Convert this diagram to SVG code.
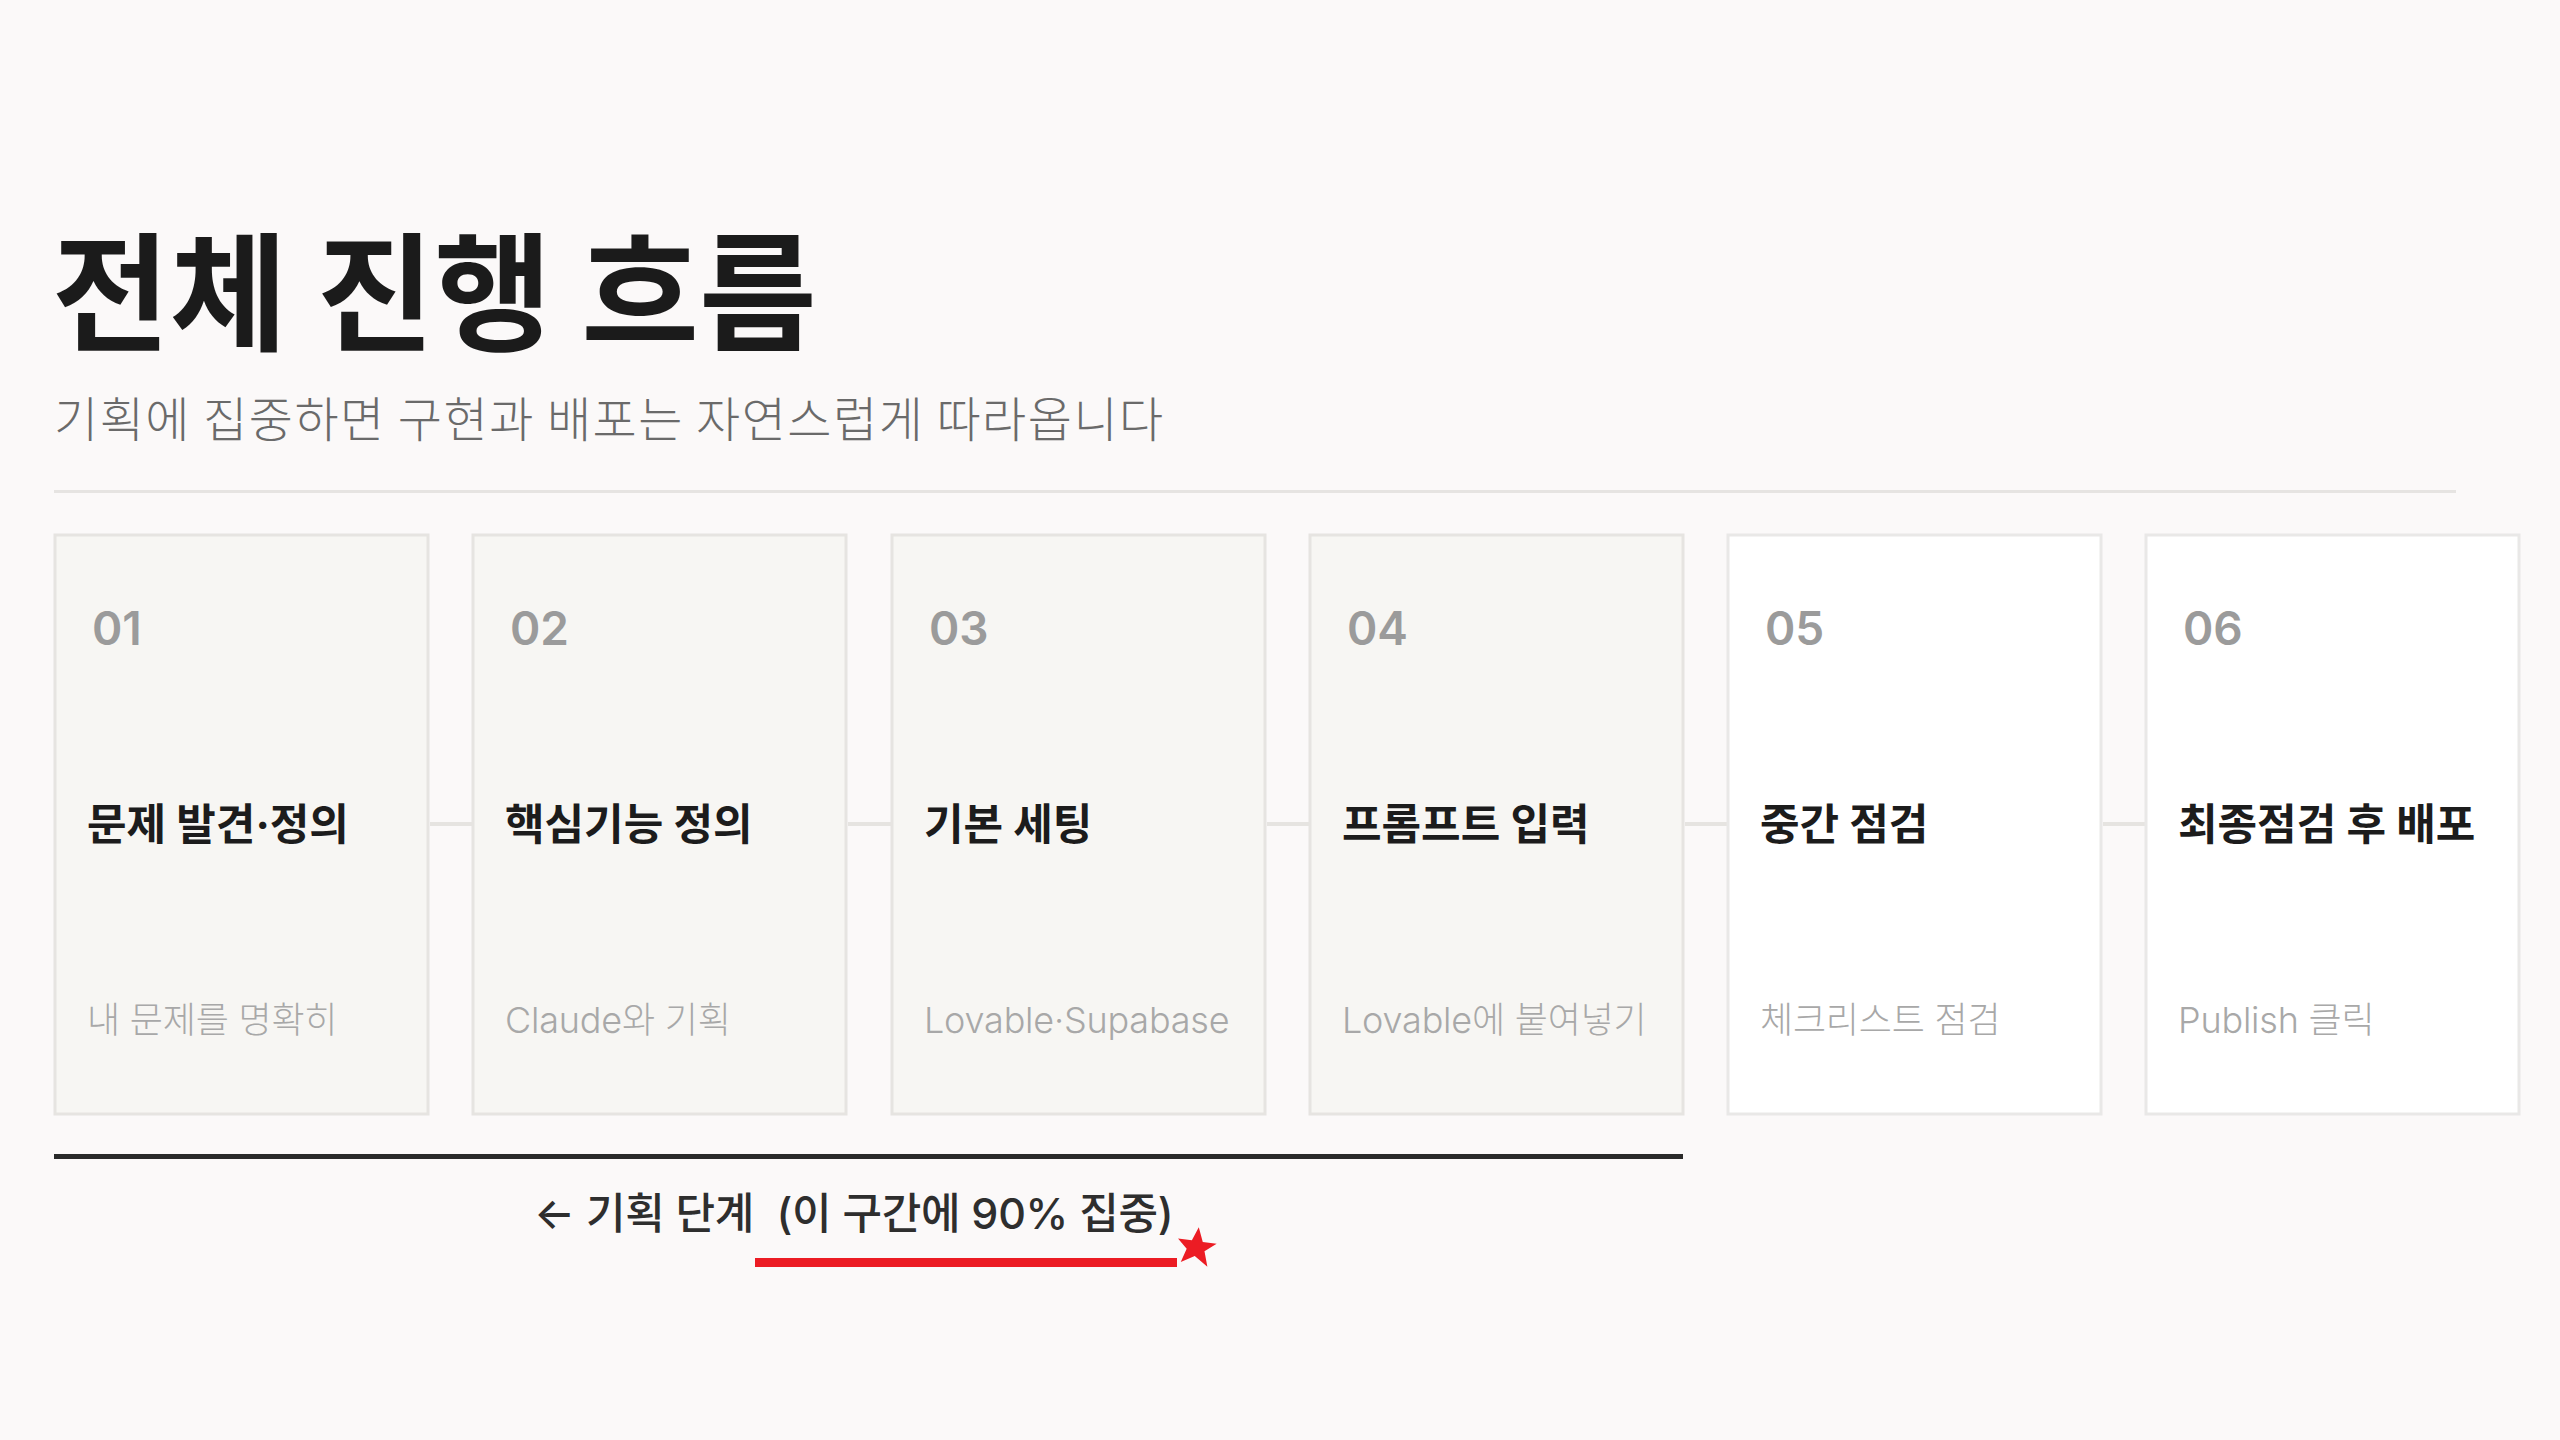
<svg xmlns="http://www.w3.org/2000/svg" width="2560" height="1440" viewBox="0 0 2560 1440">
<defs>
<style>
.bg{fill:#fbf9f9}
.card{fill:#f7f6f3;stroke:#e6e4e1;stroke-width:3}
.card2{fill:#ffffff;stroke:#e9e8e7;stroke-width:3}
.num{font-family:Inter,"Noto Sans CJK KR",sans-serif;font-weight:600;font-size:46px;fill:#9b9b9b}
.ttl{font-family:Inter,"Noto Sans CJK KR",sans-serif;font-weight:700;font-size:43px;fill:#1c1c1c;letter-spacing:0px}
.sub{font-family:Inter,"Noto Sans CJK KR",sans-serif;font-weight:300;font-size:36px;fill:#a8a8a8;letter-spacing:-0.2px}
.conn{stroke:#e6e4e1;stroke-width:4;fill:none}
</style>
</defs>
<rect class="bg" x="0" y="0" width="2560" height="1440"/>
<g id="header">
<text x="52" y="341" font-family="'Noto Sans CJK KR',sans-serif" font-weight="700" font-size="128" fill="#1b1b1b" letter-spacing="0">전체 진행 흐름</text>
<text x="54" y="437" font-family="'Noto Sans CJK KR',sans-serif" font-weight="300" font-size="48" fill="#6a6a6a" letter-spacing="1.5">기획에 집중하면 구현과 배포는 자연스럽게 따라옵니다</text>
<rect x="54" y="490" width="2402" height="3" fill="#e6e4e2"/>
</g>
<g id="connectors">
<line class="conn" x1="430" y1="824" x2="472" y2="824"/>
<line class="conn" x1="848" y1="824" x2="891" y2="824"/>
<line class="conn" x1="1267" y1="824" x2="1309" y2="824"/>
<line class="conn" x1="1685" y1="824" x2="1727" y2="824"/>
<line class="conn" x1="2103" y1="824" x2="2145" y2="824"/>
</g>
<g id="step01">
<rect class="card" x="55" y="535" width="373" height="579"/>
<text class="num" x="92" y="645">01</text>
<text class="ttl" x="87" y="840">문제 발견·정의</text>
<text class="sub" x="87" y="1033">내 문제를 명확히</text>
</g>
<g id="step02">
<rect class="card" x="473" y="535" width="373" height="579"/>
<text class="num" x="510" y="645">02</text>
<text class="ttl" x="505" y="840">핵심기능 정의</text>
<text class="sub" x="505" y="1033">Claude와 기획</text>
</g>
<g id="step03">
<rect class="card" x="892" y="535" width="373" height="579"/>
<text class="num" x="929" y="645">03</text>
<text class="ttl" x="924" y="840">기본 세팅</text>
<text class="sub" x="924" y="1033">Lovable·Supabase</text>
</g>
<g id="step04">
<rect class="card" x="1310" y="535" width="373" height="579"/>
<text class="num" x="1347" y="645">04</text>
<text class="ttl" x="1342" y="840">프롬프트 입력</text>
<text class="sub" x="1342" y="1033">Lovable에 붙여넣기</text>
</g>
<g id="step05">
<rect class="card2" x="1728" y="535" width="373" height="579"/>
<text class="num" x="1765" y="645">05</text>
<text class="ttl" x="1760" y="840">중간 점검</text>
<text class="sub" x="1760" y="1033">체크리스트 점검</text>
</g>
<g id="step06">
<rect class="card2" x="2146" y="535" width="373" height="579"/>
<text class="num" x="2183" y="645">06</text>
<text class="ttl" x="2178" y="840">최종점검 후 배포</text>
<text class="sub" x="2178" y="1033">Publish 클릭</text>
</g>
<g id="planning-bracket">
<rect x="54" y="1154" width="1629" height="5" fill="#2a2a2a"/>
<text x="534" y="1229" font-family="Inter,'Noto Sans CJK KR',sans-serif" font-weight="500" font-size="43" fill="#2e2e2e" letter-spacing="-0.3" xml:space="preserve">← 기획 단계  (이 구간에 90% 집중)</text>
<rect x="755" y="1258" width="422" height="9" fill="#ec1c24"/>
<path d="M1196,1227 L1202,1241 L1216,1241 L1205,1250 L1210,1265 L1196,1256 L1183,1264 L1187,1250 L1177,1241 L1191,1241 Z" fill="#ec1c24" transform="rotate(8 1196 1247)"/>
</g>
</svg>
